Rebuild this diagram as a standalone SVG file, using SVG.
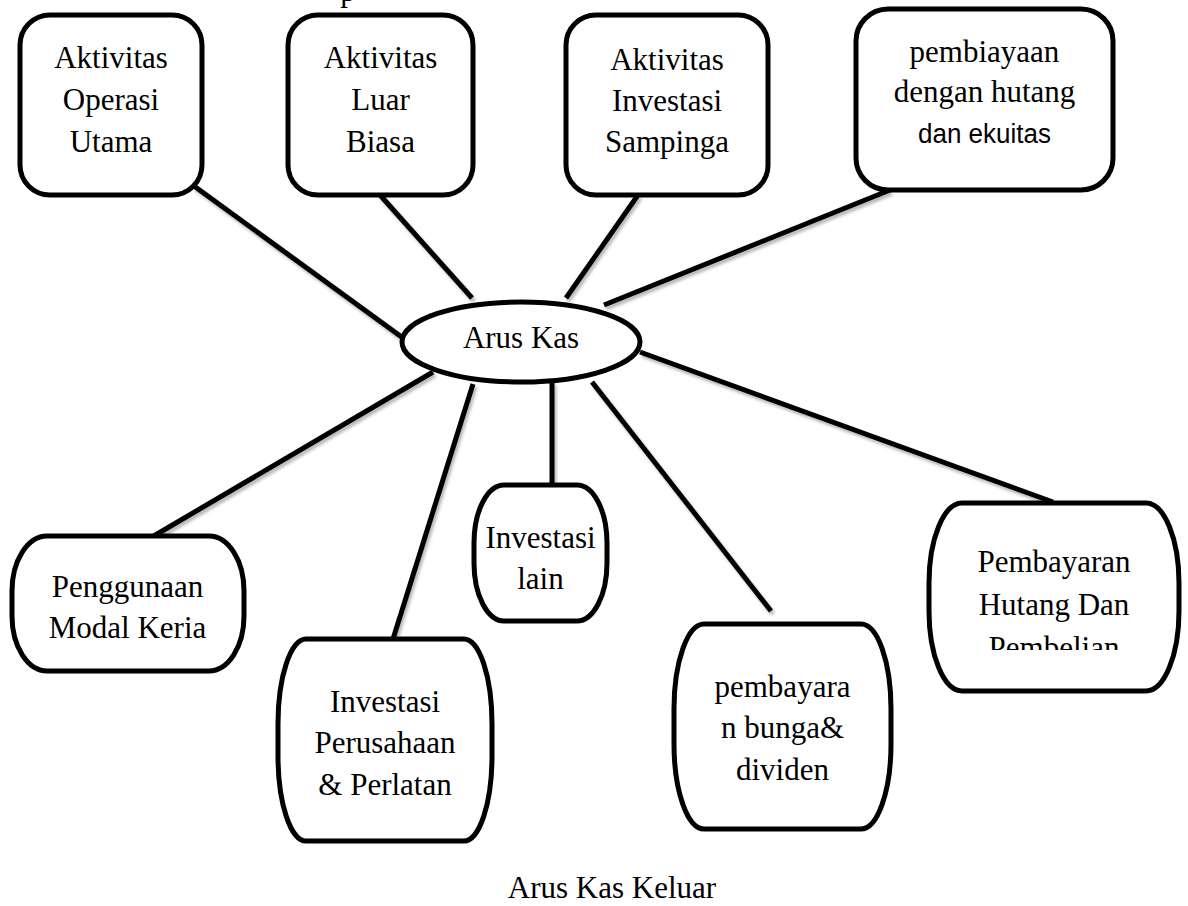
<svg xmlns="http://www.w3.org/2000/svg" width="1188" height="906" viewBox="0 0 1188 906">
  <defs>
    <filter id="sh" x="-20%" y="-20%" width="140%" height="140%">
      <feDropShadow dx="2" dy="3" stdDeviation="1.8" flood-color="#000" flood-opacity="0.28"/>
    </filter>
    <clipPath id="clipHutang">
      <rect x="929" y="503" width="250" height="147"/>
    </clipPath>
  </defs>
  <style>
    .box { fill: #fff; stroke: #000; stroke-width: 5; }
    .conn { stroke: #000; stroke-width: 5; fill: none; stroke-linecap: butt; }
    .t { font-family: "Liberation Serif", "Times New Roman", serif; font-size: 31px; fill: #000; text-anchor: middle; }
    .s { font-family: "Liberation Sans", Arial, sans-serif; font-size: 27px; fill: #000; text-anchor: middle; }
  </style>
  <rect width="1188" height="906" fill="#fff"/>

  <text class="t" x="348" y="1">p</text>

  <g id="connectors" filter="url(#sh)">
    <line class="conn" x1="194" y1="186" x2="403" y2="338"/>
    <line class="conn" x1="380" y1="195" x2="472" y2="298"/>
    <line class="conn" x1="638" y1="195" x2="566" y2="298"/>
    <line class="conn" x1="890" y1="190" x2="604" y2="305"/>
    <line class="conn" x1="433" y1="372" x2="152" y2="537"/>
    <line class="conn" x1="473" y1="384" x2="393" y2="639"/>
    <line class="conn" x1="552" y1="382" x2="552" y2="486"/>
    <line class="conn" x1="592" y1="382" x2="771" y2="611"/>
    <line class="conn" x1="640" y1="352" x2="1053" y2="502"/>
  </g>

  <g id="node-operasi">
    <rect class="box" x="20" y="15" width="182" height="180" rx="30" ry="30"/>
    <text class="t" x="111" y="68">Aktivitas</text>
    <text class="t" x="111" y="110">Operasi</text>
    <text class="t" x="111" y="152">Utama</text>
  </g>
  <g id="node-luarbiasa">
    <rect class="box" x="288" y="15" width="185" height="180" rx="30" ry="30"/>
    <text class="t" x="380.5" y="68">Aktivitas</text>
    <text class="t" x="380.5" y="110">Luar</text>
    <text class="t" x="380.5" y="152">Biasa</text>
  </g>
  <g id="node-investasi-sampinga">
    <rect class="box" x="566" y="15" width="202" height="180" rx="30" ry="30"/>
    <text class="t" x="667" y="70">Aktivitas</text>
    <text class="t" x="667" y="111">Investasi</text>
    <text class="t" x="667" y="152">Sampinga</text>
  </g>
  <g id="node-pembiayaan">
    <rect class="box" x="856" y="9" width="257" height="181" rx="32" ry="32"/>
    <text class="t" x="984.5" y="62">pembiayaan</text>
    <text class="t" x="984.5" y="102">dengan hutang</text>
    <text class="s" x="984.5" y="143" textLength="133" lengthAdjust="spacingAndGlyphs">dan ekuitas</text>
  </g>

  <g id="node-aruskas">
    <ellipse class="box" cx="521" cy="342" rx="119" ry="40"/>
    <text class="t" x="521" y="348">Arus Kas</text>
  </g>

  <g id="node-modal-kerja">
    <path class="box" d="M47,536 H209 A35 55 0 0 1 244,591 V616 A35 55 0 0 1 209,671 H47 A35 55 0 0 1 12,616 V591 A35 55 0 0 1 47,536 Z"/>
    <text class="t" x="127.5" y="597">Penggunaan</text>
    <text class="t" x="127.5" y="638">Modal Keria</text>
  </g>
  <g id="node-investasi-perusahaan">
    <path class="box" d="M306,639 H464 A28 85 0 0 1 492,724 V756 A28 85 0 0 1 464,841 H306 A28 85 0 0 1 278,756 V724 A28 85 0 0 1 306,639 Z"/>
    <text class="t" x="385" y="712">Investasi</text>
    <text class="t" x="385" y="753">Perusahaan</text>
    <text class="t" x="385" y="795">&amp; Perlatan</text>
  </g>
  <g id="node-investasi-lain">
    <path class="box" d="M504,485 H577 A30 58 0 0 1 607,543 V563 A30 58 0 0 1 577,621 H504 A30 58 0 0 1 474,563 V543 A30 58 0 0 1 504,485 Z"/>
    <text class="t" x="540.5" y="548">Investasi</text>
    <text class="t" x="540.5" y="589">lain</text>
  </g>
  <g id="node-bunga-dividen">
    <path class="box" d="M704,624 H861 A30 85 0 0 1 891,709 V744 A30 85 0 0 1 861,829 H704 A30 85 0 0 1 674,744 V709 A30 85 0 0 1 704,624 Z"/>
    <text class="t" x="782.5" y="697">pembayara</text>
    <text class="t" x="782.5" y="738">n bunga&amp;</text>
    <text class="t" x="782.5" y="780">dividen</text>
  </g>
  <g id="node-hutang-pembelian">
    <path class="box" d="M962,503 H1146 A33 80 0 0 1 1179,583 V611 A33 80 0 0 1 1146,691 H962 A33 80 0 0 1 929,611 V583 A33 80 0 0 1 962,503 Z"/>
    <g clip-path="url(#clipHutang)">
      <text class="t" x="1054" y="572">Pembayaran</text>
      <text class="t" x="1054" y="615">Hutang Dan</text>
      <text class="t" x="1054" y="658">Pembelian</text>
    </g>
  </g>

  <text class="t" x="612" y="898">Arus Kas Keluar</text>
</svg>
